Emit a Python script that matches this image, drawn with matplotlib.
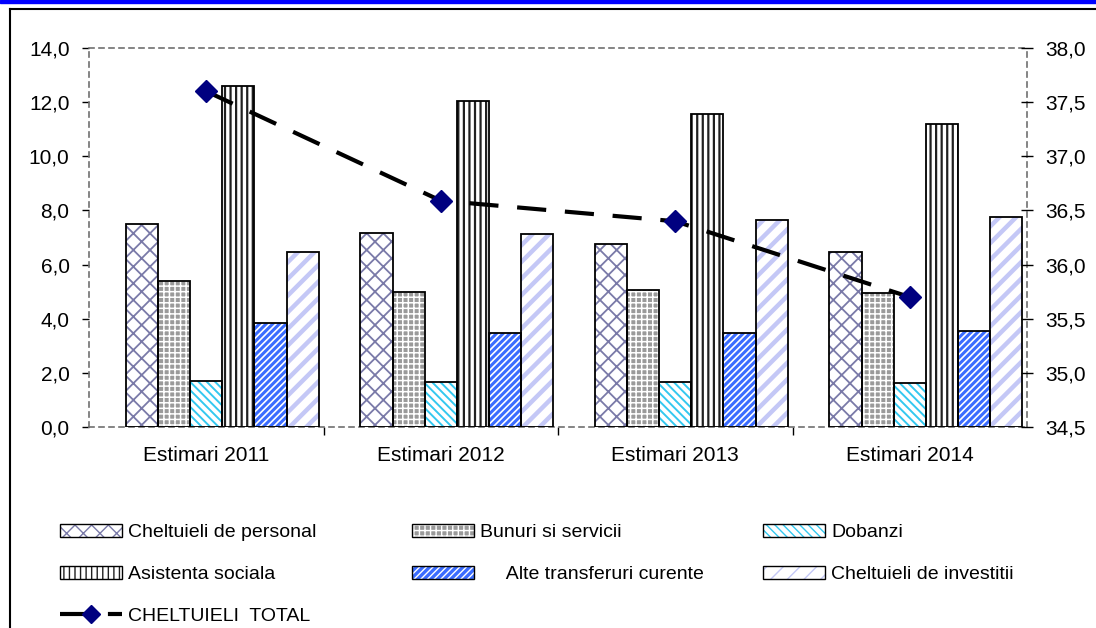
import matplotlib
matplotlib.use('Agg')
import matplotlib.pyplot as plt
from matplotlib.patches import Patch
from matplotlib.lines import Line2D
from matplotlib.ticker import FixedLocator, FuncFormatter
import numpy as np

plt.rcParams['font.family'] = ['Liberation Sans', 'DejaVu Sans']

categorii = ['Estimari 2011', 'Estimari 2012', 'Estimari 2013', 'Estimari 2014']
personal = [7.5, 7.17, 6.77, 6.47]
bunuri = [5.4, 5.0, 5.07, 4.95]
dobanzi = [1.7, 1.67, 1.67, 1.64]
asistenta = [12.6, 12.03, 11.57, 11.2]
alte = [3.86, 3.46, 3.46, 3.56]
investitii = [6.46, 7.13, 7.63, 7.75]
total = [37.6, 36.59, 36.4, 35.7]

y_ticks = [0, 2, 4, 6, 8, 10, 12, 14]
y2_ticks = [34.5, 35.0, 35.5, 36.0, 36.5, 37.0, 37.5, 38.0]

# name, values, face, hatch, hatch colour, hatch width
serii = [
    ('Cheltuieli de personal', personal, 'white', 'xx', '#7a7aa8', 1.3),
    ('Bunuri si servicii', bunuri, '#9a9a9a', '+++', 'white', 1.1),
    ('Dobanzi', dobanzi, 'white', '\\\\\\\\', '#33c8f0', 1.4),
    ('Asistenta sociala', asistenta, 'white', '|||', '#202020', 1.6),
    ('     Alte transferuri curente', alte, '#3a6cff', '/////', 'white', 1.2),
    ('Cheltuieli de investitii', investitii, 'white', '//', '#c4c8f6', 3.2),
]

fig = plt.figure(figsize=(10.96, 6.28), dpi=100)

# blue title strip and chart frame (cut off in the original)
fig.patches.append(plt.Rectangle((0, 1 - 3 / 628), 1, 3 / 628, transform=fig.transFigure,
                                 color='#0000ff', zorder=0))
fig.add_artist(Line2D([10 / 1096, 1], [1 - 9 / 628, 1 - 9 / 628], color='black', lw=1.5,
                      transform=fig.transFigure))
fig.add_artist(Line2D([10 / 1096, 10 / 1096], [0, 1 - 9 / 628], color='black', lw=1.5,
                      transform=fig.transFigure))

ax = fig.add_axes([89 / 1096, 1 - 427 / 628, (1027 - 89) / 1096, (427 - 48) / 628])
x = np.arange(len(categorii))
w = 0.137
handles = {}
for i, (nume, vals, face, hatch, hc, hw) in enumerate(serii):
    pos = x + (i - 2.5) * w
    with plt.rc_context({'hatch.linewidth': hw}):
        ax.bar(pos, vals, w, align='edge', color=face, hatch=hatch, edgecolor=hc, linewidth=0, zorder=2)
        hp = Patch(facecolor=face, hatch=hatch, edgecolor=hc, linewidth=0)
    ax.bar(pos, vals, w, align='edge', fill=False, edgecolor='black', linewidth=1.3, zorder=3)
    handles[nume] = (hp, Patch(fill=False, edgecolor='black', linewidth=1.0))

ax.set_xlim(-0.5, 3.5)
ax.set_ylim(0, 14)
ax.yaxis.set_major_locator(FixedLocator(y_ticks))
ax.yaxis.set_major_formatter(FuncFormatter(lambda v, p: f'{v:.1f}'.replace('.', ',')))
ax.set_xticks(x)
ax.set_xticklabels(categorii)
ax.set_xticks([0.5, 1.5, 2.5], minor=True)
ax.tick_params(axis='x', which='major', length=0, pad=14, labelsize=15)
ax.tick_params(axis='x', which='minor', length=6, direction='out', width=1)
ax.tick_params(axis='y', length=5, width=1, direction='out', pad=9, labelsize=15)
for s in ax.spines.values():
    s.set_linestyle((0, (3, 3)))
    s.set_color('#707070')
    s.set_linewidth(1.2)

ax2 = ax.twinx()
ax2.plot(x, total, color='black', lw=3, dashes=(7, 4.5), zorder=4)
ax2.plot(x, total, 'D', color='#000080', markersize=11, zorder=5)
ax2.set_ylim(34.5, 38.0)
ax2.yaxis.set_major_locator(FixedLocator(y2_ticks))
ax2.yaxis.set_major_formatter(FuncFormatter(lambda v, p: f'{v:.1f}'.replace('.', ',')))
ax2.tick_params(axis='y', length=9, width=1, direction='inout', pad=9, labelsize=15)
for s in ax2.spines.values():
    s.set_visible(False)

linie = Line2D([], [], color='black', lw=3, dashes=(7, 4.5), marker='D',
               markerfacecolor='#000080', markeredgecolor='#000080', markersize=9)

coloane = [
    (60, [handles['Cheltuieli de personal'], handles['Asistenta sociala'], linie],
     ['Cheltuieli de personal', 'Asistenta sociala', 'CHELTUIELI  TOTAL']),
    (412, [handles['Bunuri si servicii'], handles['     Alte transferuri curente']],
     ['Bunuri si servicii', '     Alte transferuri curente']),
    (763, [handles['Dobanzi'], handles['Cheltuieli de investitii']],
     ['Dobanzi', 'Cheltuieli de investitii']),
]
for xpx, hs, labels in coloane:
    fig.legend(hs, labels, loc='upper left', bbox_to_anchor=(xpx / 1096, 1 - 524 / 628),
               frameon=False, fontsize=14, handlelength=3.2, handleheight=0.65,
               handletextpad=0.3, labelspacing=1.25, borderpad=0, borderaxespad=0)

fig.savefig('out.png', dpi=100)
